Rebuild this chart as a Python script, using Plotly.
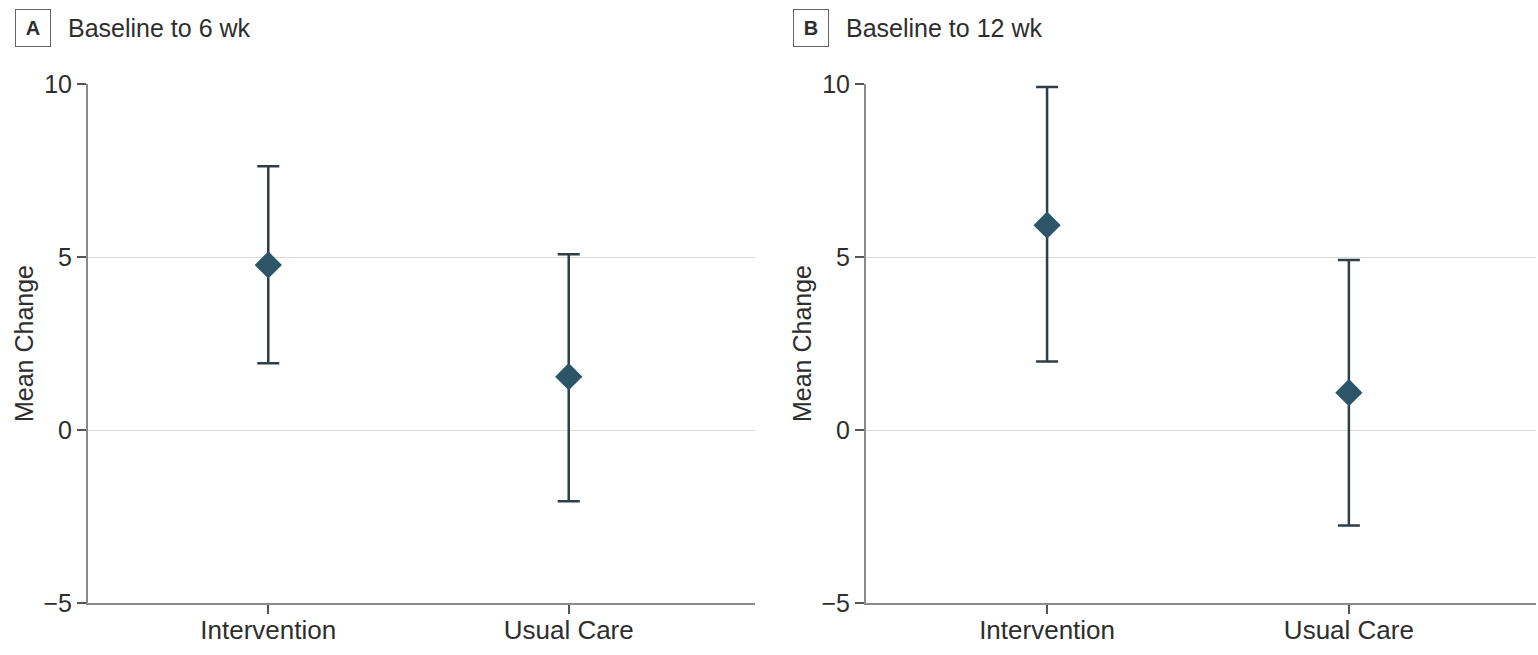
import plotly.graph_objects as go

categories = ["Intervention", "Usual Care"]

# Panel A: Baseline to 6 wk
a_mean = [4.77, 1.54]
a_upper = [7.62, 5.08]
a_lower = [1.93, -2.06]

# Panel B: Baseline to 12 wk
b_mean = [5.92, 1.08]
b_upper = [9.91, 4.91]
b_lower = [1.98, -2.76]

y_ticks = [-5, 0, 5, 10]
y_ticktext = ["\u22125", "0", "5", "10"]

W, H = 1538, 655
FONT = "Liberation Sans, Arial, sans-serif"
TXT = "#2e2e2e"
MARK = "#2c5567"
BAR = "#2f3e46"

fig = go.Figure()

def add_panel(mean, upper, lower, xa, ya):
    fig.add_trace(go.Scatter(
        x=categories, y=mean, mode="markers",
        marker=dict(symbol="diamond", size=21, color=MARK),
        error_y=dict(type="data", symmetric=False,
                     array=[u - m for u, m in zip(upper, mean)],
                     arrayminus=[m - l for m, l in zip(mean, lower)],
                     color=BAR, thickness=2.5, width=11),
        xaxis=xa, yaxis=ya, showlegend=False, hoverinfo="skip"))

add_panel(a_mean, a_upper, a_lower, "x", "y")
add_panel(b_mean, b_upper, b_lower, "x2", "y2")

top_px, bot_px = 84, 603
ydom = [1 - bot_px / H, 1 - top_px / H]

xcommon = dict(type="category", range=[-0.6, 1.62], showgrid=False,
               showline=True, linecolor="#8a8a8a", linewidth=2,
               ticks="outside", ticklen=9, tickwidth=2, tickcolor="#555555",
               tickfont=dict(family=FONT, size=26, color=TXT), zeroline=False,
               ticklabelstandoff=-6, automargin=False)
ycommon = dict(range=[-5, 10], tickvals=y_ticks, ticktext=y_ticktext,
               showgrid=True, gridcolor="#dcdcdc", gridwidth=1,
               showline=True, linecolor="#8a8a8a", linewidth=2,
               ticks="outside", ticklen=9, tickwidth=2, tickcolor="#555555",
               tickfont=dict(family=FONT, size=25, color=TXT), zeroline=False,
               automargin=False,
               title=dict(text="Mean Change", standoff=3,
                          font=dict(family=FONT, size=25, color=TXT)),
               domain=ydom)

fig.update_layout(
    width=W, height=H,
    margin=dict(l=0, r=0, t=0, b=0, autoexpand=False),
    paper_bgcolor="white", plot_bgcolor="white",
    xaxis=dict(xcommon, domain=[88 / W, 755 / W], anchor="y"),
    yaxis=dict(ycommon, anchor="x"),
    xaxis2=dict(xcommon, domain=[866 / W, 1536 / W], anchor="y2"),
    yaxis2=dict(ycommon, anchor="x2"),
)

def panel_label(letter, title, x_box, x_title):
    fig.add_annotation(x=x_box / W, y=1 - 28 / H, xref="paper", yref="paper",
                       xanchor="center", yanchor="middle", showarrow=False,
                       text="<b>%s</b>" % letter, width=32, height=34,
                       bordercolor="#666666", borderwidth=1, borderpad=1,
                       font=dict(family=FONT, size=20, color=TXT))
    fig.add_annotation(x=x_title / W, y=1 - 28 / H, xref="paper", yref="paper",
                       xanchor="left", yanchor="middle", showarrow=False,
                       text=title, font=dict(family=FONT, size=25, color=TXT))

panel_label("A", "Baseline to 6 wk", 33, 66)
panel_label("B", "Baseline to 12 wk", 811, 844)

fig.write_html("out.html")
